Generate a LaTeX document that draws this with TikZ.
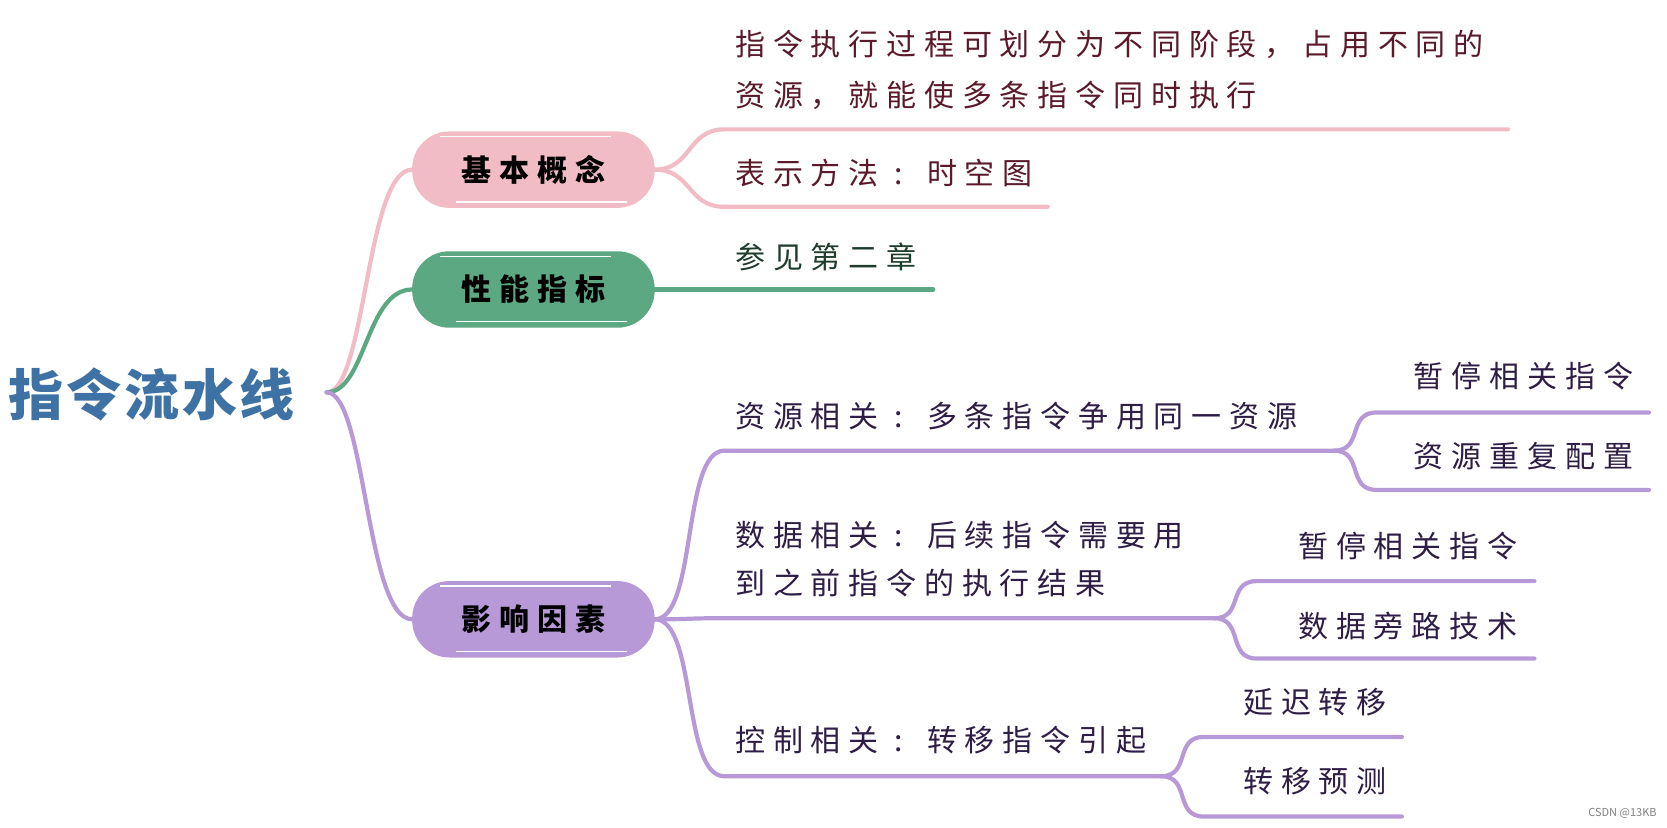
\documentclass[tikz,border=0pt]{standalone}
\usepackage{fontspec}
\setmainfont{Noto Sans CJK SC}
\newfontfamily\rootfont[LetterSpace=5]{Noto Sans CJK SC}
\newfontfamily\cjkfont[LetterSpace=26]{Noto Sans CJK SC}
\usetikzlibrary{positioning}
\newcommand\cnColon{\makebox[1.35em][c]{:}\hspace{0.26em}}

\definecolor{pinkline}{HTML}{F2BCC7}
\definecolor{greenline}{HTML}{5CA882}
\definecolor{purpleline}{HTML}{B899D8}
\definecolor{pinktext}{HTML}{5A1A2A}
\definecolor{greentext}{HTML}{1F3D2C}
\definecolor{purpletext}{HTML}{2E1D45}
\definecolor{roottext}{HTML}{3E72A4}

\begin{document}
\begin{tikzpicture}[x=0.53pt, y=-0.53pt,
    cat/.style = {draw, rounded corners=18pt, minimum width=120pt, minimum height=37pt, line width=1.2pt, font=\cjkfont\bfseries\fontsize{15}{18}\selectfont},
    leaf/.style = {anchor=west, inner sep=0pt, align=left, font=\cjkfont\fontsize{15}{25.5}\selectfont},
    branch/.style = {line width=2.1pt, line cap=round}]
			\useasboundingbox (0,0) rectangle (1572,780);

			% root and the three main branches
			\node[text=roottext, font=\rootfont\bfseries\fontsize{27.5}{30}\selectfont, anchor=west, inner sep=0pt] (root) at (8,372) {指令流水线};
			\coordinate (rootj) at (308,370);

			\node[cat, fill=pinkline, draw=pinkline] (basic) at (503,160) {基本概念};
			\node[cat, fill=greenline, draw=greenline] (perf) at (503,273) {性能指标};
			\node[cat, fill=purpleline, draw=purpleline] (factor) at (503,584) {影响因素};

			\foreach \n in {basic, perf, factor} {
				\draw[white, line width=0.7pt] ([xshift=14pt, yshift=-2.5pt]\n.north west) -- ([xshift=-22pt, yshift=-2.5pt]\n.north east);
				\draw[white, line width=0.7pt] ([xshift=22pt, yshift=3pt]\n.south west) -- ([xshift=-14pt, yshift=3pt]\n.south east);
			}

			\draw[branch, pinkline] (rootj) .. controls (345,370) and (345,160) .. (basic.west);
			\draw[branch, greenline] (rootj) .. controls (345,370) and (345,273) .. (perf.west);
			\draw[branch, purpleline] (rootj) .. controls (345,370) and (345,584) .. (factor.west);

			% basic concept
			\node[leaf, text=pinktext] (stage) at (693,66) {指令执行过程可划分为不同阶段，占用不同的\\资源，就能使多条指令同时执行};
			\node[leaf, text=pinktext] (timing) at (693,163) {表示方法\cnColon 时空图};
			\coordinate (stageL) at (683,122);
			\coordinate (stageR) at (1422,122);
			\coordinate (timingL) at (683,195);
			\coordinate (timingR) at (988,195);
			\draw[branch, pinkline] (basic.east) .. controls +(35,0) and +(-35,0) .. (stageL) -- (stageR);
			\draw[branch, pinkline] (basic.east) .. controls +(35,0) and +(-35,0) .. (timingL) -- (timingR);

			% performance
			\node[leaf, text=greentext] (chapter) at (693,242) {参见第二章};
			\coordinate (chapterR) at (880,273);
			\draw[branch, greenline] (perf.east) -- (chapterR);

			% factors
			\node[leaf, text=purpletext] (res) at (693,392) {资源相关\cnColon 多条指令争用同一资源};
			\node[leaf, text=purpletext, font=\cjkfont\fontsize{15}{24}\selectfont] (data) at (693,527) {数据相关\cnColon 后续指令需要用\\到之前指令的执行结果};
			\node[leaf, text=purpletext] (ctrl) at (693,698) {控制相关\cnColon 转移指令引起};
			\coordinate (resL) at (683,425);
			\coordinate (resR) at (1258,425);
			\coordinate (dataL) at (683,583);
			\coordinate (dataR) at (1145,583);
			\coordinate (ctrlL) at (683,732);
			\coordinate (ctrlR) at (1095,732);
			\draw[branch, purpleline] (factor.east) .. controls +(40,0) and +(-40,0) .. (resL) -- (resR);
			\draw[branch, purpleline] (factor.east) .. controls +(40,0) and +(-40,0) .. (dataL) -- (dataR);
			\draw[branch, purpleline] (factor.east) .. controls +(40,0) and +(-40,0) .. (ctrlL) -- (ctrlR);

			% sub items
			\node[leaf, text=purpletext] (resstall) at (1333,355) {暂停相关指令};
			\node[leaf, text=purpletext] (resdup) at (1333,430) {资源重复配置};
			\node[leaf, text=purpletext] (datastall) at (1224,515) {暂停相关指令};
			\node[leaf, text=purpletext] (bypass) at (1224,590) {数据旁路技术};
			\node[leaf, text=purpletext] (delay) at (1172,662) {延迟转移};
			\node[leaf, text=purpletext] (predict) at (1172,737) {转移预测};
			\coordinate (resstallL) at (1298,389);
			\coordinate (resstallR) at (1555,389);
			\coordinate (resdupL) at (1298,462);
			\coordinate (resdupR) at (1555,462);
			\coordinate (datastallL) at (1185,548);
			\coordinate (datastallR) at (1447,548);
			\coordinate (bypassL) at (1185,621);
			\coordinate (bypassR) at (1447,621);
			\coordinate (delayL) at (1135,695);
			\coordinate (delayR) at (1322,695);
			\coordinate (predictL) at (1135,770);
			\coordinate (predictR) at (1322,770);
			\draw[branch, purpleline] (resR) .. controls +(28,0) and +(-28,0) .. (resstallL) -- (resstallR);
			\draw[branch, purpleline] (resR) .. controls +(28,0) and +(-28,0) .. (resdupL) -- (resdupR);
			\draw[branch, purpleline] (dataR) .. controls +(28,0) and +(-28,0) .. (datastallL) -- (datastallR);
			\draw[branch, purpleline] (dataR) .. controls +(28,0) and +(-28,0) .. (bypassL) -- (bypassR);
			\draw[branch, purpleline] (ctrlR) .. controls +(28,0) and +(-28,0) .. (delayL) -- (delayR);
			\draw[branch, purpleline] (ctrlR) .. controls +(28,0) and +(-28,0) .. (predictL) -- (predictR);

			\node[text=gray, font=\fontsize{5.5}{6.5}\selectfont] (mark) at (1530,767) {CSDN @13KB};
		\end{tikzpicture}
\end{document}
